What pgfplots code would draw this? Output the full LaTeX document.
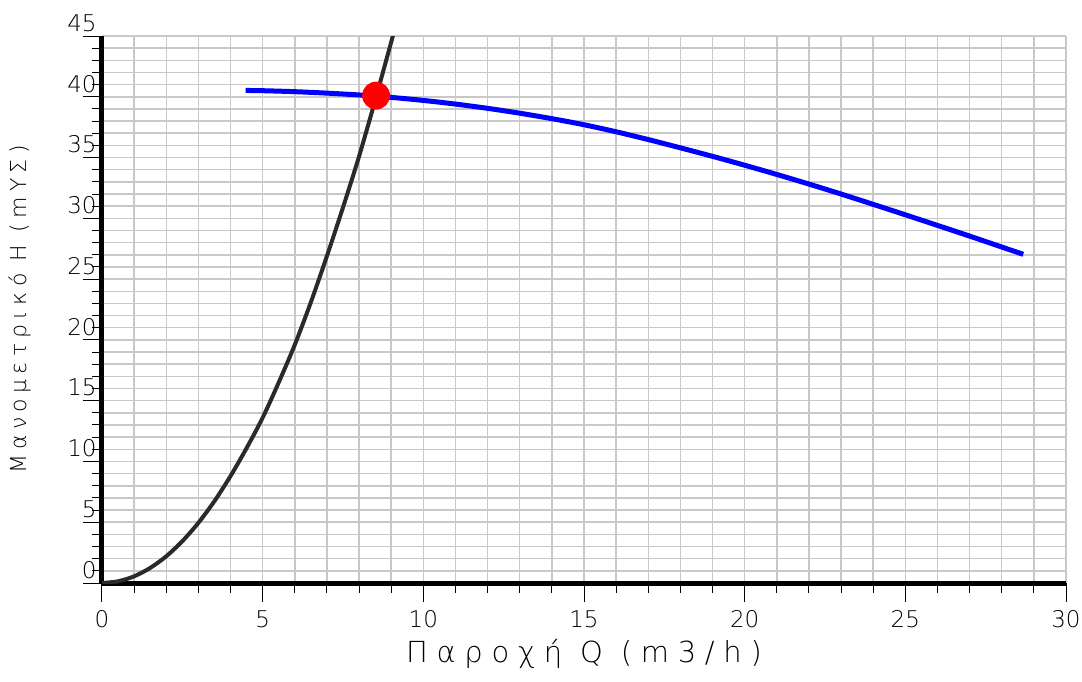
\documentclass[border=0pt]{standalone}
\usepackage{fontspec}
\setmainfont{DejaVu Sans ExtraLight}
\newfontfamily\spacedfont{DejaVu Sans ExtraLight}[LetterSpace=24]
\newfontfamily\widefont{DejaVu Sans ExtraLight}[LetterSpace=30]
\usepackage{pgfplots}
\pgfplotsset{compat=1.18}
\usetikzlibrary{calc}
\definecolor{cgrid}{HTML}{C8C8C8}
\definecolor{csys}{HTML}{2A2A2A}
\definecolor{cpump}{HTML}{0000FF}
\definecolor{cpoint}{HTML}{FF0000}

\begin{document}
\begin{tikzpicture}
\begin{axis}[
  name=ax,
  scale only axis,
  width=482pt, height=273.5pt,
  xmin=0, xmax=30, ymin=0, ymax=45,
  axis lines=left,
  axis line style={line width=2.5pt, -},
  xtick={0,5,...,30}, ytick={0,5,...,45},
  minor x tick num=4, minor y tick num=4,
  grid=both,
  major grid style={cgrid, line width=0.75pt},
  minor grid style={cgrid, line width=0.75pt},
  tick align=outside,
  major tick length=9.5pt, minor tick length=5pt,
  tick style={black, line width=0.5pt},
  /pgf/number format/assume math mode=true,
  ticklabel style={font=\fontsize{11.5}{11.5}\selectfont},
  xticklabel style={anchor=north, inner sep=0pt, yshift=-4pt},
  yticklabel style={anchor=south east, inner sep=0pt, yshift=2pt, xshift=7pt},
  every axis x label/.style={at={(axis description cs:0.5,0)}, anchor=center, yshift=-35.5pt},
  every axis y label/.style={at={(axis description cs:0,0.5)}, rotate=90, anchor=center, yshift=41pt},
  xlabel={\widefont\fontsize{14.5}{14.5}\selectfont Παροχή Q (m3/h)},
  ylabel={\spacedfont\fontsize{11}{11}\selectfont Μανομετρικό Η (mΥΣ)},
]
% system curve
\addplot[csys, line width=2pt, smooth] coordinates {
  (0,0) (0.5,0.14) (1,0.55) (1.5,1.24) (2,2.2) (2.5,3.44) (3,4.95)
  (3.5,6.74) (4,8.8) (4.5,11.1) (5,13.6) (5.5,16.5) (6,19.6) (6.5,23.1)
  (7,26.9) (7.5,30.9) (8,35.1) (8.5,39.7) (9,44.5) (9.05,45.0)
};
% pump curve
\addplot[cpump, line width=2.5pt, smooth] coordinates {
  (4.47,40.52) (5,40.5) (6,40.42) (7,40.3) (8,40.15) (9,39.95) (10,39.7)
  (11,39.4) (12,39.05) (13,38.65) (14,38.2) (15,37.7) (16,37.12)
  (17,36.48) (18,35.8) (19,35.1) (20,34.37) (21,33.61) (22,32.82)
  (23,32.0) (24,31.15) (25,30.29) (26,29.42) (27,28.54) (28,27.64)
  (28.67,27.04)
};
% operating point
\addplot[only marks, mark=*, mark size=6.75pt, mark options={draw=cpoint, fill=cpoint}]
  coordinates {(8.53,40.1)};
\end{axis}
\pgfresetboundingbox
\path[use as bounding box] ($(ax.south west)+(-51pt,-49pt)$) rectangle ($(ax.north east)+(8pt,18pt)$);
\end{tikzpicture}
\end{document}
